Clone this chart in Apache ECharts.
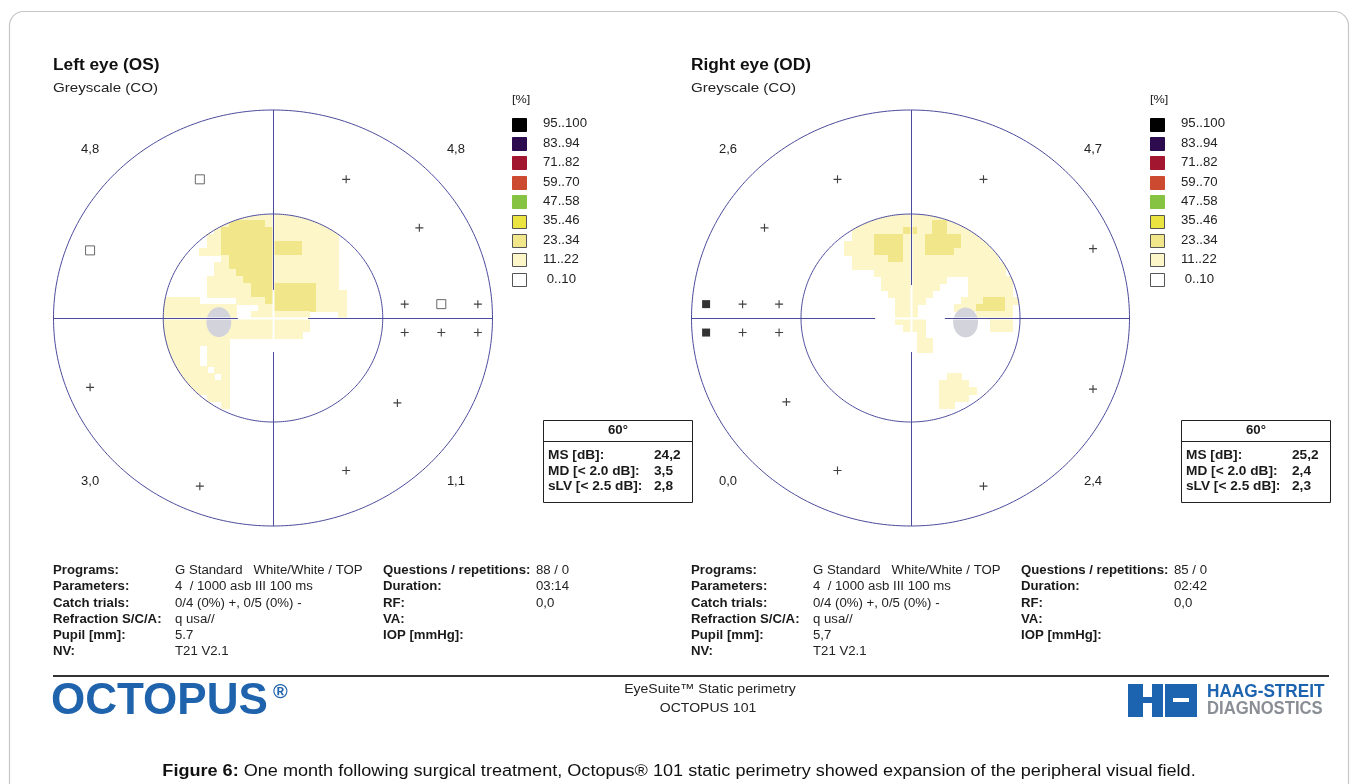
<!DOCTYPE html>
<html>
<head>
<meta charset="utf-8">
<script src="https://cdn.jsdelivr.net/npm/echarts@6/dist/echarts.min.js"></script>
<style>
  html, body { margin: 0; padding: 0; background: #ffffff; }
  #chart { width: 1358px; height: 784px; }
</style>
</head>
<body>
<div id="chart"></div>
<script>
// ---------- data ----------
// Greyscale maps, 2° cells from the top-left of the central 30° field.
// '.' = 0..10 %, '1' = 11..22 %, '2' = 23..34 % (rows padded with '.' to 30 cells)
const leftHeat = [
  '.........111111111111',
  '........122222111111111',
  '.......12222222111111111',
  '......112222222111111111',
  '......112222222222211111',
  '.....1112222222222211111',
  '........1222222111111111',
  '.......11222222111111111',
  '.......11122222111111111',
  '......111112222111111111',
  '......111111222222222111',
  '......1111112222222221111',
  '11111.....111122222221111',
  '1111111111...112222221111',
  '1111111111..11111111....1',
  '11111111111111111111',
  '11111111111111111111',
  '1111111111111111111',
  '111111111',
  '11111.111',
  '11111.111',
  '11111.111',
  '111111.11',
  '1111111.1',
  '111111111',
  '111111111',
  '......111',
  '........1',
  '',
  ''
];
const rightHeat = [
  '.........111111111111',
  '........11111111112211',
  '.......11111112211221111',
  '.......1112222111222221111',
  '......11112222111222221111',
  '......111122221112222111111',
  '.......11111221111111111111',
  '.......111111111111111111111',
  '..........111111111111111111',
  '...........111111111...111111',
  '...........11111111....111111',
  '............111111.....111111',
  '.............1111.....11122211',
  '.............111.....11122221',
  '.............111........11111',
  '.............1111.........111',
  '..............111.........111',
  '................1',
  '................11',
  '................11',
  '',
  '',
  '',
  '....................11',
  '...................1111',
  '...................11111',
  '...................1111',
  '...................11',
  '',
  ''
];

// Test locations outside the central field (degrees)
const leftPlus = [[20, 40], [40, 26], [36, 4], [56, 4], [36, -4.2], [46, -4.2], [56, -4.2], [-50, -20], [34, -24.5], [20, -44], [-20, -48.5]];
const leftOpen = [[-20, 40], [-50, 19.5], [46, 4]];
const rightPlus = [[-20, 40], [20, 40], [-40, 26], [50, 20], [-46, 4], [-36, 4], [-46, -4.2], [-36, -4.2], [-34, -24.2], [50, -20.5], [-20, -44], [20, -48.5]];
const rightFilled = [[-56, 4], [-56, -4.2]];

// Quadrant values
const cornerPos = [[-50, 48.7], [50, 48.7], [-50, -47], [50, -47]];
const leftCorner = ['4,8', '4,8', '3,0', '1,1'];
const rightCorner = ['2,6', '4,7', '0,0', '2,4'];

// Blind spot: centre x, centre y, half-width, half-height (degrees)
const leftBlind = [-14.8, -1.2, 3.4, 4.3];
const rightBlind = [15.1, -1.3, 3.4, 4.3];

// Meridian segments (x1, y1, x2, y2)
const leftMeridians = [[-60, 0, -9.6, 0], [9.6, 0, 60, 0], [0, 60, 0, 8.1], [0, -9.8, 0, -60]];
const rightMeridians = [[-60, 0, -9.7, 0], [9.4, 0, 60, 0], [0, 60, 0, 9.5], [0, -9.8, 0, -60]];
const ringRadii = [30, 60];

// Legend
const legendLabels = ['95..100', '83..94', '71..82', '59..70', '47..58', '35..46', '23..34', '11..22', ' 0..10'];
const legendColors = ['#000000', '#2c0b4e', '#a3162f', '#cc4a2f', '#86c342', '#ebe33f', '#f2e68b', '#fcf6c9', '#ffffff'];
const heatColors = ['#ffffff', '#fcf6c9', '#f2e68b'];

// Indices
const statLabels = ['MS [dB]:', 'MD [< 2.0 dB]:', 'sLV [< 2.5 dB]:'];
const leftStats = ['24,2', '3,5', '2,8'];
const rightStats = ['25,2', '2,4', '2,3'];

// Examination details
const infoLabelsA = ['Programs:', 'Parameters:', 'Catch trials:', 'Refraction S/C/A:', 'Pupil [mm]:', 'NV:'];
const leftInfoA = ['G Standard   White/White / TOP', '4  / 1000 asb III 100 ms', '0/4 (0%) +, 0/5 (0%) -', 'q usa//', '5.7', 'T21 V2.1'];
const rightInfoA = ['G Standard   White/White / TOP', '4  / 1000 asb III 100 ms', '0/4 (0%) +, 0/5 (0%) -', 'q usa//', '5,7', 'T21 V2.1'];
const infoLabelsB = ['Questions / repetitions:', 'Duration:', 'RF:', 'VA:', 'IOP [mmHg]:'];
const leftInfoB = ['88 / 0', '03:14', '0,0', '', ''];
const rightInfoB = ['85 / 0', '02:42', '0,0', '', ''];

const eyeTitles = ['Left eye (OS)', 'Right eye (OD)'];

// ---------- drawing ----------
const FONT = '"Liberation Sans", Arial, Helvetica, sans-serif';
const LINE = '#4b4b9c';
const TEXT_SX = 1.1;

function cellsFrom(rows) {
  const out = [];
  rows.forEach((row, r) => {
    const line = row.padEnd(30, '.');
    for (let c = 0; c < 30; c++) {
      const lv = line[c] === '2' ? 2 : (line[c] === '1' ? 1 : 0);
      if (!lv) continue;
      const x = -29 + 2 * c, y = 29 - 2 * r;
      const nx = Math.max(Math.abs(x) - 1, 0), ny = Math.max(Math.abs(y) - 1, 0);
      if (nx * nx + ny * ny < 900) out.push([x, y, lv]);
    }
  });
  return out;
}

function ellipsePts(api, cx, cy, rx, ry, n) {
  const pts = [];
  for (let k = 0; k < n; k++) {
    const t = 2 * Math.PI * k / n;
    pts.push(api.coord([cx + rx * Math.cos(t), cy + ry * Math.sin(t)]));
  }
  return pts;
}

function renderCell(params, api) {
  const x = api.value(0), y = api.value(1);
  const a = api.coord([x - 1, y + 1]), b = api.coord([x + 1, y - 1]);
  const x0 = Math.floor(a[0]), y0 = Math.floor(a[1]);
  return {
    type: 'rect',
    shape: { x: x0, y: y0, width: Math.ceil(b[0]) - x0, height: Math.ceil(b[1]) - y0 },
    style: { fill: heatColors[api.value(2)] }
  };
}

function renderMask(params, api) {
  const r = api.value(0) + 1.65;
  return { type: 'polygon', shape: { points: ellipsePts(api, 0, 0, r, r, 240) }, style: { fill: 'none', stroke: '#ffffff', lineWidth: 12 } };
}

function renderRing(params, api) {
  const r = api.value(0);
  return { type: 'polygon', shape: { points: ellipsePts(api, 0, 0, r, r, 360) }, style: { fill: 'none', stroke: LINE, lineWidth: 1 } };
}

function renderBlind(params, api) {
  return {
    type: 'polygon',
    shape: { points: ellipsePts(api, api.value(0), api.value(1), api.value(2), api.value(3), 60) },
    style: { fill: '#d3d3dc' }
  };
}

function segRenderer(color, width) {
  return function (params, api) {
    const p = api.coord([api.value(0), api.value(1)]);
    const q = api.coord([api.value(2), api.value(3)]);
    const snap = v => Math.round(v) + 0.5;
    const vertical = Math.abs(p[0] - q[0]) < 0.5;
    return {
      type: 'line',
      shape: vertical ? { x1: snap(p[0]), y1: p[1], x2: snap(q[0]), y2: q[1] }
                      : { x1: p[0], y1: snap(p[1]), x2: q[0], y2: snap(q[1]) },
      style: { stroke: color, lineWidth: width }
    };
  };
}

const PLUS = 'path://M4.3 0h1.4v4.3h4.3v1.4h-4.3v4.3h-1.4v-4.3h-4.3v-1.4h4.3z';

function eyeSeries(i, heat, blind, meridians, plus, open, filled, corner) {
  const ax = { xAxisIndex: i, yAxisIndex: i };
  const list = [
    Object.assign({ type: 'custom', name: 'greyscale', data: cellsFrom(heat), renderItem: renderCell, z: 1, silent: true }, ax),
    Object.assign({ type: 'custom', name: 'edge', data: [[ringRadii[0], 0]], renderItem: renderMask, z: 2, silent: true }, ax),
    Object.assign({ type: 'custom', name: 'blind spot', data: [blind], renderItem: renderBlind, z: 3, silent: true }, ax),
    Object.assign({ type: 'custom', name: 'centre cross', data: [[0, -30, 0, 30], [-30, 0, 30, 0]], renderItem: segRenderer('#ffffff', 2), z: 3, silent: true }, ax),
    Object.assign({ type: 'custom', name: 'rings', data: ringRadii.map(r => [r, 0]), renderItem: renderRing, z: 4, silent: true }, ax),
    Object.assign({ type: 'custom', name: 'meridians', data: meridians, renderItem: segRenderer(LINE, 1), z: 4, silent: true }, ax),
    Object.assign({ type: 'scatter', name: 'normal', data: plus, symbol: PLUS, symbolSize: 8, itemStyle: { color: '#111111' }, z: 5, silent: true }, ax),
    Object.assign({
      type: 'scatter', name: 'quadrant', z: 5, silent: true,
      data: cornerPos.map((p, k) => ({ value: p, name: corner[k] })),
      symbolSize: 1, itemStyle: { color: 'rgba(255,255,255,0)' },
      label: { show: true, position: 'inside', formatter: '{b}', fontFamily: FONT, fontSize: 13, color: '#222222', opacity: 1 }
    }, ax)
  ];
  if (open.length) list.push(Object.assign({
    type: 'scatter', name: 'open', data: open, symbol: 'rect', symbolSize: 9, z: 5, silent: true,
    itemStyle: { color: '#ffffff', borderColor: '#444444', borderWidth: 1 }
  }, ax));
  if (filled.length) list.push(Object.assign({
    type: 'scatter', name: 'filled', data: filled, symbol: 'rect', symbolSize: 8, z: 5, silent: true,
    itemStyle: { color: '#000000' }
  }, ax));
  return list;
}

function txt(x, y, text, size, opt) {
  opt = opt || {};
  return {
    type: 'text', x: x, y: y, scaleX: opt.sx || TEXT_SX, silent: true, z: 10,
    style: {
      text: text, fill: opt.color || '#1a1a1a',
      font: (opt.bold ? 'bold ' : '') + size + 'px ' + FONT,
      align: opt.align || 'left', verticalAlign: 'middle'
    }
  };
}

const graphics = [];
// page frame
graphics.push({ type: 'rect', shape: { x: 9.5, y: 11.5, width: 1339, height: 820, r: 14 }, style: { fill: 'none', stroke: '#c6c6c6', lineWidth: 1.2 }, silent: true, z: 0 });

const panelDx = [0, 638];
const statsSets = [leftStats, rightStats];
const infoA = [leftInfoA, rightInfoA];
const infoB = [leftInfoB, rightInfoB];
const infoRows = [571, 587, 603.5, 619.5, 636, 652];

panelDx.forEach((dx, e) => {
  graphics.push(txt(53 + dx, 66, eyeTitles[e], 16, { bold: true, sx: 1.08, color: '#111' }));
  graphics.push(txt(53 + dx, 88, 'Greyscale (CO)', 13.5, { sx: 1.12, color: '#222' }));
  // legend
  graphics.push(txt(512 + dx, 100, '[%]', 11.5, { color: '#222' }));
  legendLabels.forEach((lab, k) => {
    const cy = 124 + 19.4 * k;
    graphics.push({ type: 'rect', shape: { x: 512.5 + dx, y: Math.round(cy - 6.5) + 0.5, width: 14, height: 13 }, style: { fill: legendColors[k], stroke: k < 5 ? legendColors[k] : '#555555', lineWidth: 1 }, silent: true, z: 10 });
    graphics.push(txt(543 + dx, cy, lab, 12, { color: '#222' }));
  });
  // indices box
  graphics.push({ type: 'rect', shape: { x: 543.5 + dx, y: 420.5, width: 149, height: 82 }, style: { fill: '#ffffff', stroke: '#222222', lineWidth: 1 }, silent: true, z: 10 });
  graphics.push({ type: 'line', shape: { x1: 543.5 + dx, y1: 441.5, x2: 692.5 + dx, y2: 441.5 }, style: { stroke: '#222222', lineWidth: 1 }, silent: true, z: 10 });
  graphics.push(txt(618 + dx, 431, '60°', 12, { bold: true, align: 'center' }));
  statLabels.forEach((lab, k) => {
    const y = 456 + 15.5 * k;
    graphics.push(txt(548 + dx, y, lab, 12, { bold: true, sx: 1.14 }));
    graphics.push(txt(654 + dx, y, statsSets[e][k], 12, { bold: true, sx: 1.14 }));
  });
  // examination details
  infoLabelsA.forEach((lab, k) => {
    graphics.push(txt(53 + dx, infoRows[k], lab, 12, { bold: true, sx: 1.1 }));
    graphics.push(txt(175 + dx, infoRows[k], infoA[e][k], 12, { sx: 1.1, color: '#222' }));
  });
  infoLabelsB.forEach((lab, k) => {
    graphics.push(txt(383 + dx, infoRows[k], lab, 12, { bold: true, sx: 1.1 }));
    if (infoB[e][k]) graphics.push(txt(536 + dx, infoRows[k], infoB[e][k], 12, { sx: 1.1, color: '#222' }));
  });
});

// footer
graphics.push({ type: 'line', shape: { x1: 53, y1: 676, x2: 1329, y2: 676 }, style: { stroke: '#333333', lineWidth: 2 }, silent: true, z: 10 });
graphics.push(txt(51, 702, 'OCTOPUS', 44, { bold: true, sx: 1, color: '#1f63ad' }));
graphics.push(txt(273, 692, '®', 20, { bold: true, sx: 1, color: '#1f63ad' }));
graphics.push(txt(710, 689, 'EyeSuite™ Static perimetry', 13, { align: 'center', sx: 1.08, color: '#222' }));
graphics.push(txt(708, 708, 'OCTOPUS 101', 13, { align: 'center', sx: 1.08, color: '#222' }));
// Haag-Streit mark
const HS_BLUE = '#1c63b0';
[[1128, 684, 15, 33], [1143, 697, 9, 6], [1152, 684, 11, 33], [1165, 684, 32, 14], [1165, 702, 32, 15], [1165, 696, 8, 6], [1189, 698, 8, 6]].forEach(r => {
  graphics.push({ type: 'rect', shape: { x: r[0], y: r[1], width: r[2], height: r[3] }, style: { fill: HS_BLUE }, silent: true, z: 10 });
});
graphics.push({ type: 'line', shape: { x1: 1176, y1: 700.5, x2: 1189, y2: 700.5 }, style: { stroke: '#ffffff', lineWidth: 1.5 }, silent: true, z: 11 });
graphics.push(txt(1207, 692, 'HAAG-STREIT', 18.5, { bold: true, sx: 0.93, color: HS_BLUE }));
graphics.push(txt(1207, 709, 'DIAGNOSTICS', 18.5, { bold: true, sx: 0.9, color: '#8a8e95' }));

// caption
graphics.push({
  type: 'text', x: 679, y: 772, scaleX: 1.13, silent: true, z: 10,
  style: {
    text: '{b|Figure 6:} One month following surgical treatment, Octopus® 101 static perimetry showed expansion of the peripheral visual field.',
    font: '16px ' + FONT, fill: '#111111', align: 'center', verticalAlign: 'middle',
    rich: { b: { fontWeight: 'bold', fontSize: 16, fontFamily: FONT, fill: '#111111' } }
  }
});

const axisBase = { type: 'value', min: -60, max: 60, show: false };

const chart = echarts.init(document.getElementById('chart'), null, { renderer: 'canvas' });
chart.setOption({
  animation: false,
  backgroundColor: '#ffffff',
  grid: [
    { left: 53.5, top: 110, width: 439, height: 416 },
    { left: 691.5, top: 110, width: 438, height: 416 }
  ],
  xAxis: [Object.assign({ gridIndex: 0 }, axisBase), Object.assign({ gridIndex: 1 }, axisBase)],
  yAxis: [Object.assign({ gridIndex: 0 }, axisBase), Object.assign({ gridIndex: 1 }, axisBase)],
  series: [].concat(
    eyeSeries(0, leftHeat, leftBlind, leftMeridians, leftPlus, leftOpen, [], leftCorner),
    eyeSeries(1, rightHeat, rightBlind, rightMeridians, rightPlus, [], rightFilled, rightCorner)
  ),
  graphic: graphics
});
</script>
</body>
</html>
